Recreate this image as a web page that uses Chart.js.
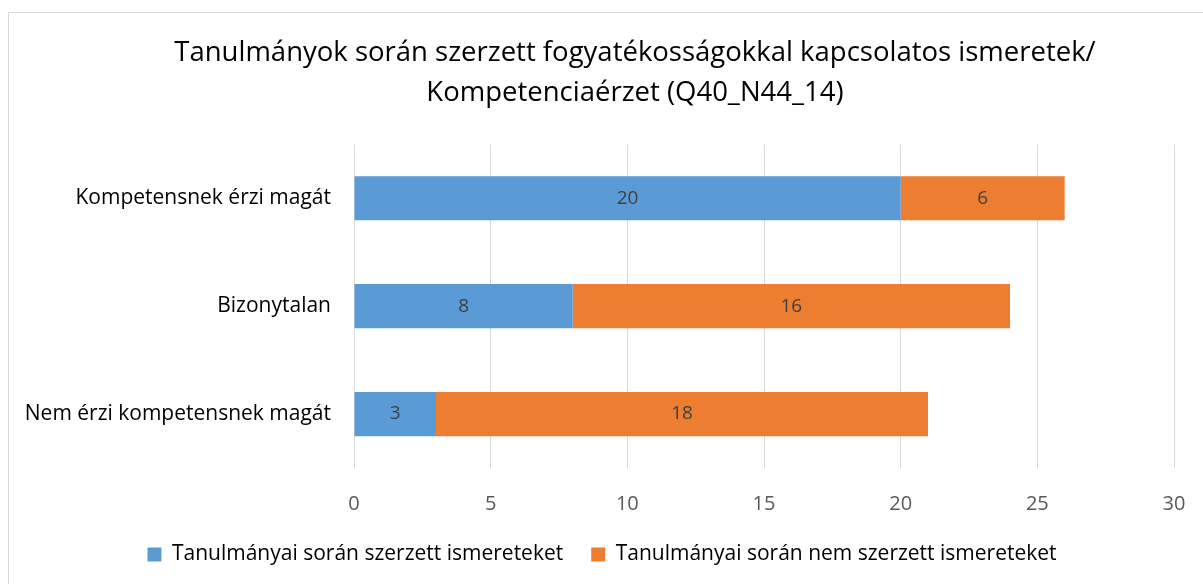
<!DOCTYPE html>
<html>
<head>
<meta charset="utf-8">
<script src="https://cdn.jsdelivr.net/npm/chart.js@4"></script>
<style>
  html, body { margin: 0; padding: 0; background: #fff; overflow: hidden; }
  #box { position: absolute; left: 8px; top: 12px; width: 1270px; height: 600px; border: 1px solid #d9d9d9; }
  #wrap { position: absolute; left: 0; top: 0; width: 1252px; height: 572px; }
</style>
</head>
<body>
<div id="box">
  <div id="wrap"><canvas id="chart"></canvas></div>
</div>
<script>
const categories = ['Kompetensnek érzi magát', 'Bizonytalan', 'Nem érzi kompetensnek magát'];
const acquiredValues = [20, 8, 3];
const notAcquiredValues = [6, 16, 18];
const seriesNames = ['Tanulmányai során szerzett ismereteket', 'Tanulmányai során nem szerzett ismereteket'];
const titleLines = ['Tanulmányok során szerzett fogyatékosságokkal kapcsolatos ismeretek/', 'Kompetenciaérzet (Q40_N44_14)'];

const fontFamily = "'Open Sans', 'Liberation Sans', sans-serif";

// simple inline data labels, centred in each bar segment
const barLabels = {
  id: 'barLabels',
  afterDatasetsDraw(chart) {
    const ctx = chart.ctx;
    ctx.save();
    ctx.font = '19px ' + fontFamily;
    ctx.fillStyle = '#404040';
    ctx.textAlign = 'center';
    ctx.textBaseline = 'middle';
    chart.data.datasets.forEach((ds, i) => {
      chart.getDatasetMeta(i).data.forEach((bar, j) => {
        const x = (bar.x + bar.base) / 2;
        ctx.fillText(ds.data[j], x, bar.y);
      });
    });
    ctx.restore();
  }
};

// nudge the legend a bit left, like the original
const legendShift = {
  id: 'legendShift',
  afterLayout(chart) {
    chart.legend.left -= 33;
    chart.legend.right -= 33;
  }
};

const ctx = document.getElementById('chart').getContext('2d');
const chart = new Chart(ctx, {
  type: 'bar',
  data: {
    labels: categories,
    datasets: [
      {
        label: seriesNames[0],
        data: acquiredValues,
        backgroundColor: '#5b9bd5',
        categoryPercentage: 0.82,
        barPercentage: 0.5
      },
      {
        label: seriesNames[1],
        data: notAcquiredValues,
        backgroundColor: '#ed7d31',
        categoryPercentage: 0.82,
        barPercentage: 0.5
      }
    ]
  },
  options: {
    indexAxis: 'y',
    responsive: true,
    maintainAspectRatio: false,
    animation: false,
    layout: { padding: { left: 0, right: 0, top: 0, bottom: 10 } },
    plugins: {
      title: {
        display: true,
        text: titleLines,
        color: '#000',
        font: { family: fontFamily, size: 27.5, weight: 'normal', lineHeight: 1.46 },
        padding: { top: 20, bottom: 31 }
      },
      legend: {
        position: 'bottom',
        labels: {
          color: '#000',
          font: { family: fontFamily, size: 21 },
          boxWidth: 14,
          boxHeight: 14,
          padding: 28
        }
      },
      tooltip: { enabled: false }
    },
    scales: {
      x: {
        stacked: true,
        min: 0,
        max: 30,
        afterFit(scale) { scale.height = 48; },
        ticks: { stepSize: 5, color: '#595959', font: { family: fontFamily, size: 20 }, padding: 24 },
        grid: { color: '#d9d9d9', drawTicks: false },
        border: { display: false }
      },
      y: {
        stacked: true,
        afterFit(scale) { scale.width = 345; },
        ticks: { color: '#000', font: { family: fontFamily, size: 21 }, padding: 23 },
        grid: { display: false, drawTicks: false },
        border: { display: false }
      },
      // empty right-hand spacer so the plot ends where the reference does
      spacer: {
        type: 'linear',
        position: 'right',
        afterFit(scale) { scale.width = 87; },
        ticks: { display: false },
        grid: { display: false, drawTicks: false },
        border: { display: false }
      }
    }
  },
  plugins: [barLabels, legendShift]
});
</script>
</body>
</html>
